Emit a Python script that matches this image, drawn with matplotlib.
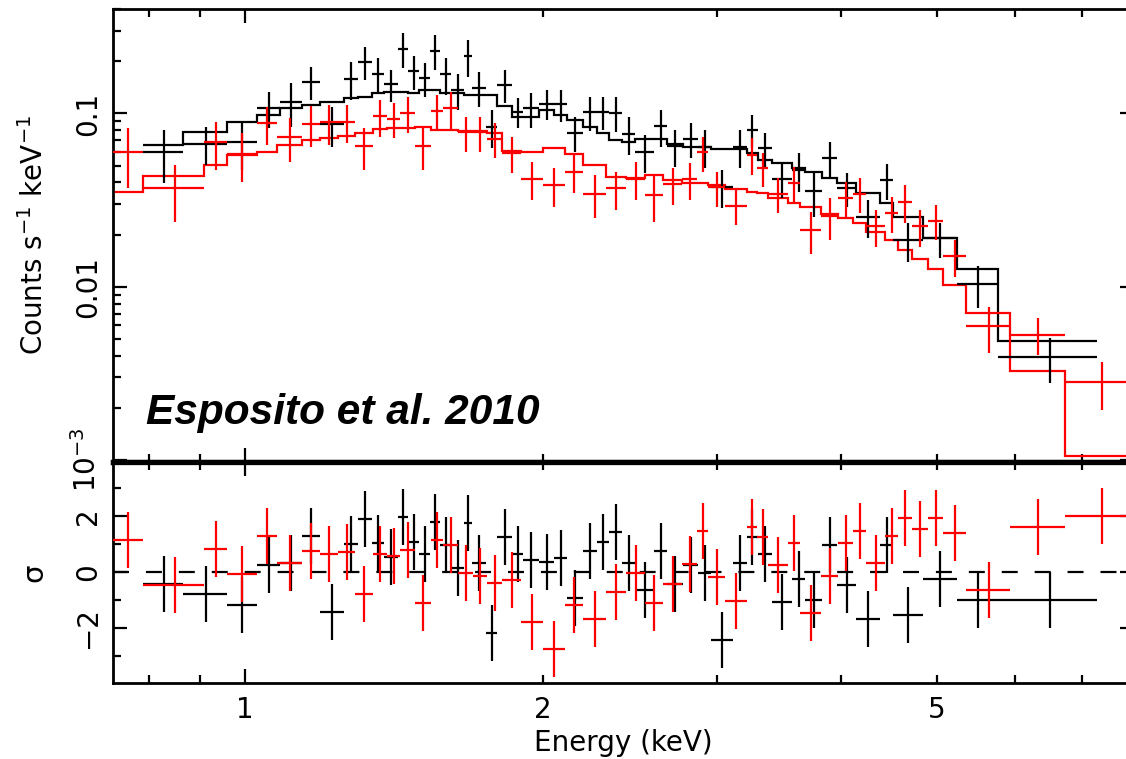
import numpy as np
import matplotlib
matplotlib.use("Agg")
import matplotlib.pyplot as plt
from matplotlib.ticker import FixedLocator, FixedFormatter, NullFormatter

plt.rcParams['font.family'] = 'DejaVu Sans'
plt.rcParams['lines.scale_dashes'] = False

# first observation (black): bin edges in keV, rate, 1-sigma error, folded model, residual
black_edges = [0.789, 0.866, 0.959, 1.028, 1.085, 1.142, 1.191, 1.259, 1.301, 1.344,
               1.382, 1.428, 1.461, 1.499, 1.538, 1.574, 1.615, 1.664, 1.696, 1.752,
               1.797, 1.861, 1.909, 1.982, 2.052, 2.115, 2.195, 2.268, 2.332, 2.404,
               2.477, 2.589, 2.669, 2.770, 2.868, 2.956, 3.111, 3.214, 3.297, 3.407,
               3.569, 3.678, 3.827, 3.963, 4.142, 4.379, 4.514, 4.841, 5.239, 5.763,
               7.255]
black_rate = [0.0599, 0.0669, 0.0681, 0.1075, 0.1165, 0.1521, 0.0863, 0.1585, 0.1984, 0.1697,
              0.1470, 0.2365, 0.1752, 0.1596, 0.2302, 0.1680, 0.1365, 0.2133, 0.1409, 0.0838,
              0.1462, 0.1024, 0.1067, 0.1139, 0.1127, 0.0775, 0.1016, 0.1021, 0.1011, 0.0763,
              0.0601, 0.0842, 0.0646, 0.0716, 0.0642, 0.0378, 0.0642, 0.0805, 0.0630, 0.0421,
              0.0471, 0.0356, 0.0556, 0.0370, 0.0254, 0.0413, 0.0186, 0.0190, 0.01035, 0.00392]
black_err = [0.0202, 0.0166, 0.0210, 0.0252, 0.0331, 0.0328, 0.0224, 0.0392, 0.0428, 0.0387,
             0.0308, 0.0540, 0.0389, 0.0354, 0.0525, 0.0405, 0.0320, 0.0514, 0.0322, 0.0207,
             0.0315, 0.0201, 0.0244, 0.0224, 0.0236, 0.0177, 0.0226, 0.0220, 0.0231, 0.0189,
             0.0149, 0.0203, 0.0156, 0.0163, 0.0159, 0.0093, 0.0159, 0.0173, 0.0140, 0.0096,
             0.0119, 0.0103, 0.0127, 0.0082, 0.0063, 0.0097, 0.0047, 0.0043, 0.0028, 0.00114]
black_model = [0.0657, 0.0783, 0.0895, 0.0978, 0.1073, 0.1117, 0.1167, 0.1225, 0.1247, 0.1304,
               0.1332, 0.1332, 0.1315, 0.1363, 0.1363, 0.1315, 0.1315, 0.1275, 0.1275, 0.1275,
               0.1102, 0.0956, 0.0956, 0.1045, 0.0978, 0.0915, 0.0837, 0.0767, 0.0702, 0.0686,
               0.0708, 0.0708, 0.0665, 0.0642, 0.0642, 0.0620, 0.0620, 0.0588, 0.0538, 0.0517,
               0.0482, 0.0461, 0.0422, 0.0398, 0.0348, 0.0305, 0.0253, 0.0191, 0.0126, 0.00486]
black_res = [-0.42, -0.80, -1.20, 0.24, 0.30, 1.27, -1.45, 0.98, 1.87, 1.04,
             0.52, 1.96, 1.07, 0.65, 1.79, 0.95, 0.15, 1.73, 0.30, -2.18,
             1.23, 0.65, 0.42, 0.36, 0.48, -0.95, 0.75, 1.07, 1.43, 0.32,
             -0.65, 0.75, -0.44, 0.24, -0.06, -2.42, 0.32, 1.23, 0.65, -1.07,
             -0.24, -0.99, 0.95, -0.48, -1.70, 0.95, -1.55, -0.24, -0.99, -0.99]

# second observation (red)
red_edges = [0.736, 0.789, 0.909, 0.959, 1.028, 1.077, 1.142, 1.191, 1.242, 1.292,
             1.347, 1.391, 1.434, 1.485, 1.542, 1.585, 1.641, 1.700, 1.756, 1.818,
             1.901, 2.000, 2.105, 2.195, 2.316, 2.426, 2.535, 2.644, 2.763, 2.861,
             2.936, 3.054, 3.214, 3.290, 3.375, 3.536, 3.636, 3.818, 3.972, 4.113,
             4.239, 4.430, 4.567, 4.718, 4.897, 5.071, 5.350, 5.926, 6.734, 7.962]
red_rate = [0.0595, 0.0370, 0.0683, 0.0585, 0.0875, 0.0731, 0.0872, 0.0887, 0.0894, 0.0646,
            0.0963, 0.0930, 0.1007, 0.0646, 0.1038, 0.1067, 0.0779, 0.0779, 0.0713, 0.0592,
            0.0421, 0.0386, 0.0460, 0.0344, 0.0369, 0.0421, 0.0339, 0.0389, 0.0416, 0.0597,
            0.0375, 0.0294, 0.0579, 0.0483, 0.0344, 0.0398, 0.0213, 0.0255, 0.0326, 0.0344,
            0.0224, 0.0267, 0.0309, 0.0224, 0.0241, 0.0150, 0.0059, 0.0053, 0.00282]
red_err = [0.0226, 0.0133, 0.0212, 0.0182, 0.0218, 0.0205, 0.0230, 0.0230, 0.0223, 0.0175,
           0.0230, 0.0212, 0.0240, 0.0175, 0.0237, 0.0266, 0.0178, 0.0178, 0.0163, 0.0141,
           0.0105, 0.0097, 0.0115, 0.0096, 0.0092, 0.0105, 0.0102, 0.0093, 0.0100, 0.0136,
           0.0086, 0.0067, 0.0138, 0.0106, 0.0079, 0.0095, 0.0058, 0.0069, 0.0078, 0.0079,
           0.0054, 0.0064, 0.0077, 0.0054, 0.0055, 0.0036, 0.00177, 0.00127, 0.00087]
red_model = [0.0353, 0.0435, 0.0503, 0.0575, 0.0600, 0.0657, 0.0702, 0.0723, 0.0745, 0.0773,
             0.0808, 0.0820, 0.0820, 0.0830, 0.0800, 0.0800, 0.0794, 0.0794, 0.0767, 0.0610,
             0.0600, 0.0630, 0.0580, 0.0503, 0.0431, 0.0422, 0.0440, 0.0415, 0.0398, 0.0398,
             0.0386, 0.0365, 0.0350, 0.0348, 0.0325, 0.0303, 0.0290, 0.0262, 0.0248, 0.0234,
             0.0208, 0.0186, 0.0163, 0.0144, 0.0126, 0.0103, 0.00703, 0.00327, 0.00106]
red_res = [1.13, -0.48, 0.81, -0.08, 1.29, 0.30, 0.74, 0.63, 0.71, -0.81,
           0.65, 0.55, 0.77, -1.13, 1.13, 0.95, -0.06, -0.15, -0.39, -0.30,
           -1.79, -2.74, -1.19, -1.70, -0.71, -0.06, -1.13, -0.42, 0.27, 1.46,
           -0.20, -1.04, 1.60, 1.23, 0.24, 1.04, -1.46, -0.15, 1.04, 1.45,
           0.30, 1.27, 1.93, 1.52, 1.93, 1.37, -0.65, 1.60, 1.99]

# ticks
x_major = [1]
x_major_labels = ['1']
x_minor = [0.8, 0.9, 2, 3, 4, 5, 6, 7]
x_minor_labels = ['', '', '2', '', '', '5', '', '']
rate_major = [1e-3, 1e-2, 1e-1]
rate_major_labels = ['$10^{-3}$', '0.01', '0.1']
res_major = [-2, 0, 2]
res_minor = [-3, -1, 1, 3]

LW = 1.6
FS = 20

fig = plt.figure(figsize=(11.26, 7.59), dpi=100)
ax = fig.add_axes([0.10036, 0.39130, 0.90675, 0.59684])
axr = fig.add_axes([0.10036, 0.10013, 0.90675, 0.29117], sharex=ax)

axr.axhline(0, color='black', lw=LW, dashes=(11.5, 12.2), zorder=1)

for edges, rate, err, model, res, col in (
        (black_edges, black_rate, black_err, black_model, black_res, 'black'),
        (red_edges, red_rate, red_err, red_model, red_res, '#ff0000')):
    e = np.asarray(edges)
    lo, hi = e[:-1], e[1:]
    xc = 0.5 * (lo + hi)
    xerr = [xc - lo, hi - xc]
    ax.stairs(model, e, baseline=None, color=col, lw=LW, zorder=2)
    ax.errorbar(xc, rate, xerr=xerr, yerr=err, fmt='none', ecolor=col,
                elinewidth=LW, capsize=0, zorder=3)
    axr.errorbar(xc, res, xerr=xerr, yerr=1.0, fmt='none', ecolor=col,
                 elinewidth=LW, capsize=0, zorder=3)

ax.set_xscale('log')
ax.set_yscale('log')
ax.set_xlim(0.7356, 7.907)
ax.set_ylim(9.75e-4, 0.40)
axr.set_ylim(-3.97, 3.92)

ax.xaxis.set_major_locator(FixedLocator(x_major))
ax.xaxis.set_major_formatter(FixedFormatter(x_major_labels))
ax.xaxis.set_minor_locator(FixedLocator(x_minor))
ax.xaxis.set_minor_formatter(FixedFormatter(x_minor_labels))

ax.yaxis.set_major_locator(FixedLocator(rate_major))
ax.yaxis.set_major_formatter(FixedFormatter(rate_major_labels))
ax.yaxis.set_minor_locator(FixedLocator(
    [m * d for d in (1e-3, 1e-2, 1e-1) for m in range(2, 10)]))
ax.yaxis.set_minor_formatter(NullFormatter())

axr.yaxis.set_major_locator(FixedLocator(res_major))
axr.yaxis.set_minor_locator(FixedLocator(res_minor))

for a in (ax, axr):
    a.tick_params(which='both', direction='in', top=True, right=True,
                  width=LW, labelsize=FS)
    a.tick_params(which='major', length=10)
    a.tick_params(which='minor', length=5.8)
    a.tick_params(axis='y', which='both', labelrotation=90, pad=8)
    a.tick_params(axis='x', which='both', pad=9)
    for s in a.spines.values():
        s.set_linewidth(2.0)
    plt.setp(a.get_yticklabels(), va='center')
ax.tick_params(axis='x', which='both', labelbottom=False)
ax.spines['bottom'].set_linewidth(3.8)
axr.spines['top'].set_linewidth(3.8)

ax.set_ylabel('Counts s$^{-1}$ keV$^{-1}$', fontsize=FS)
ax.yaxis.set_label_coords(-0.063, 0.5)
axr.set_ylabel('σ', fontsize=FS + 1)
axr.yaxis.set_label_coords(-0.063, 0.5)
axr.set_xlabel('Energy (keV)', fontsize=FS)
axr.xaxis.set_label_coords(0.5, -0.21)

ax.text(0.0323, 0.0832, 'Esposito et al. 2010', transform=ax.transAxes,
        fontsize=30.5, fontweight='bold', fontstyle='italic',
        family='Liberation Sans', ha='left', va='baseline')

fig.savefig('out.png', dpi=100)
